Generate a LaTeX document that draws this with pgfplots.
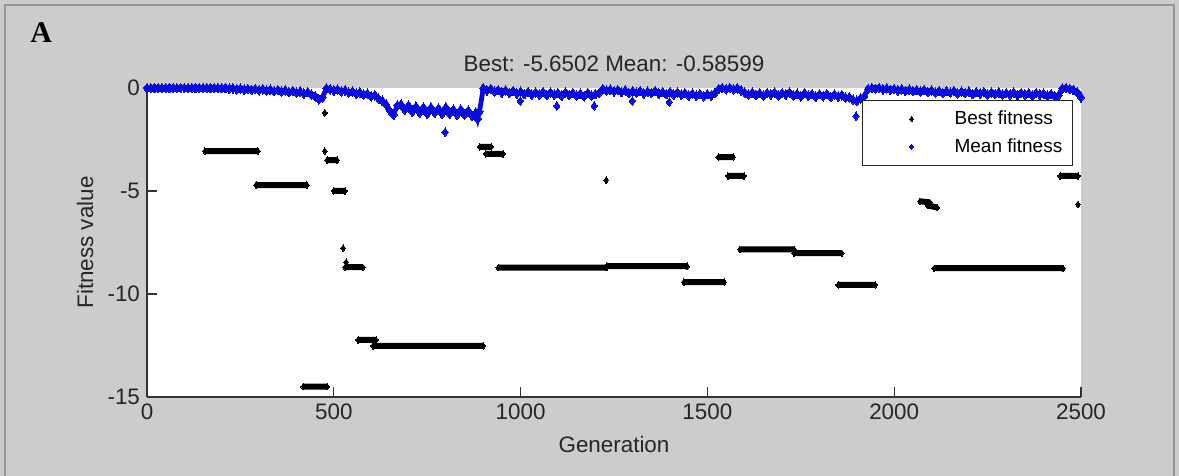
\documentclass[border=0pt]{standalone}
\usepackage{fontspec}
\setmainfont{Liberation Sans}
\newfontfamily\serifbf{Liberation Serif}
\usepackage{pgfplots}
\pgfplotsset{compat=1.18}
\definecolor{figgray}{RGB}{204,204,204}
\definecolor{framegray}{RGB}{150,150,150}
\definecolor{meanblue}{RGB}{12,12,215}
\pgfplotstableread{
x y
155 -3.06
297 -3.06
nan nan
292 -4.71
428 -4.71
nan nan
418 -14.5
482 -14.5
nan nan
476 -1.21
nan nan
476 -3.06
nan nan
482 -3.5
509 -3.5
nan nan
500 -5.0
530 -5.0
nan nan
525 -7.77
nan nan
533 -8.45
nan nan
530 -8.7
578 -8.7
nan nan
565 -12.23
613 -12.23
nan nan
605 -12.52
900 -12.52
nan nan
891 -2.86
921 -2.86
nan nan
907 -3.2
953 -3.2
nan nan
940 -8.72
1230 -8.72
nan nan
1229 -4.47
nan nan
1230 -8.65
1446 -8.65
nan nan
1437 -9.42
1545 -9.42
nan nan
1529 -3.35
1569 -3.35
nan nan
1555 -4.27
1598 -4.27
nan nan
1587 -7.83
1732 -7.83
nan nan
1732 -8.02
1860 -8.02
nan nan
1850 -9.56
1949 -9.56
nan nan
2069 -5.5
2095 -5.55
nan nan
2090 -5.7
2115 -5.8
nan nan
2107 -8.75
2452 -8.75
nan nan
2444 -4.27
2492 -4.27
nan nan
2492 -5.65
}\besttable
\begin{document}
\begin{tikzpicture}
\fill[figgray] (0,0) rectangle (589.5pt,238pt);
\draw[framegray, line width=1pt] (2.5pt,-1pt) -- (2.5pt,235.5pt) -- (587pt,235.5pt) -- (587pt,-1pt);
\node[anchor=base west, inner sep=0pt, font=\fontsize{15}{18}\selectfont\serifbf\bfseries] at (15pt,216.5pt) {A};
\begin{axis}[
  at={(73.5pt,39.5pt)}, anchor=south west,
  scale only axis, width=467pt, height=154.5pt,
  xmin=0, xmax=2500, ymin=-15, ymax=0,
  axis x line*=bottom, axis y line*=left,
  axis line style={black!80, line width=0.6pt},
  axis background/.style={fill=white},
  tick align=inside, major tick length=5pt,
  tick style={black!80, line width=0.6pt},
  xtick={0,500,1000,1500,2000,2500},
  xticklabels={0,500,1000,1500,2000,2500},
  ytick={-15,-10,-5,0},
  yticklabels={-15,-10,-5,0},
  ticklabel style={font=\fontsize{11.2}{13}\selectfont, text=black!85},
  every axis title shift=0pt,
  title={Best: -5.6502 Mean: -0.58599},
  title style={at={(axis description cs:0.5,1)}, anchor=base, yshift=8pt, font=\fontsize{11.2}{13}\selectfont, text=black!85},
  xlabel={Generation},
  xlabel style={at={(axis description cs:0.5,0)}, anchor=base, yshift=-28pt, font=\fontsize{11.2}{13}\selectfont, text=black!85},
  ylabel={Fitness value},
  ylabel style={at={(axis description cs:-0.0578,0.5)}, anchor=base, font=\fontsize{11.2}{13}\selectfont, text=black!85},
  clip=false,
  unbounded coords=jump,
  legend style={at={(rel axis cs:0.7655,0.961)}, anchor=north west, draw=black!85, line width=0.6pt, fill=white,
     font=\fontsize{9.5}{11}\selectfont, inner xsep=3pt, inner ysep=3pt, row sep=1.5pt},
  legend cell align=left,
  legend image code/.code={\path[draw=none, fill=none] (0pt,-2pt) rectangle (41pt,2pt);
     \draw[#1, mark size=1.3pt, line width=0.4pt] plot coordinates {(21.5pt,0pt)};},
]
\addplot[black, line width=3pt, mark=diamond*, mark size=1.6pt, mark options={black, line width=0pt}] table[x=x,y=y] {\besttable};
\addlegendentry{Best fitness}
\addplot[mark=diamond*, mark size=2.4pt, color=meanblue, line width=2.4pt, mark options={meanblue, line width=0pt}] coordinates {
(0,0) (10,0) (20,0) (30,0) (40,0) (50,0) (60,0) (70,0) (80,0) (90,0)
(100,0) (110,0) (120,0) (130,0) (140,0) (150,0) (160,0) (170,0) (180,0) (190,0)
(200,-0.01) (210,0) (220,-0.03) (230,-0.02) (240,-0.06) (250,-0.03) (260,-0.08) (270,-0.04) (280,-0.09) (290,-0.05)
(300,-0.11) (310,-0.06) (320,-0.12) (330,-0.08) (340,-0.15) (350,-0.1) (360,-0.17) (370,-0.12) (380,-0.2) (390,-0.14)
(400,-0.22) (410,-0.17) (420,-0.27) (430,-0.2) (440,-0.32) (450,-0.4) (460,-0.55) (470,-0.45) (480,-0.02) (490,-0.06)
(500,-0.12) (510,-0.08) (520,-0.17) (530,-0.12) (540,-0.22) (550,-0.17) (560,-0.27) (570,-0.22) (580,-0.32) (590,-0.28)
(600,-0.4) (610,-0.35) (620,-0.52) (630,-0.62) (640,-0.8) (650,-1.1) (660,-1.3) (670,-0.85) (680,-0.8) (690,-1.05)
(700,-0.85) (710,-1.15) (720,-0.9) (730,-1.2) (740,-0.95) (750,-1.25) (760,-0.95) (770,-1.2) (780,-1.0) (790,-1.25)
(800,-0.95) (810,-1.25) (820,-1.05) (830,-1.3) (840,-1.05) (850,-1.3) (860,-1.1) (870,-1.35) (880,-1.2) (885,-1.5) (890,-1.15)
(900,-0.02) (910,-0.12) (920,-0.05) (930,-0.17) (940,-0.1) (950,-0.22) (960,-0.12) (970,-0.24) (980,-0.15) (990,-0.27)
(1000,-0.18) (1010,-0.3) (1020,-0.2) (1030,-0.32) (1040,-0.22) (1050,-0.32) (1060,-0.2) (1070,-0.34) (1080,-0.22) (1090,-0.32)
(1100,-0.25) (1110,-0.37) (1120,-0.22) (1130,-0.34) (1140,-0.25) (1150,-0.37) (1160,-0.28) (1170,-0.4) (1180,-0.25) (1190,-0.37)
(1200,-0.3) (1210,-0.25) (1220,-0.05) (1230,-0.12) (1240,-0.08) (1250,-0.17) (1260,-0.1) (1270,-0.2) (1280,-0.12) (1290,-0.24)
(1300,-0.15) (1310,-0.22) (1320,-0.15) (1330,-0.27) (1340,-0.18) (1350,-0.24) (1360,-0.15) (1370,-0.27) (1380,-0.2) (1390,-0.3)
(1400,-0.2) (1410,-0.32) (1420,-0.22) (1430,-0.32) (1440,-0.25) (1450,-0.37) (1460,-0.28) (1470,-0.37) (1480,-0.3) (1490,-0.4)
(1500,-0.3) (1510,-0.37) (1520,-0.25) (1530,-0.05) (1540,0) (1550,-0.06) (1560,0) (1570,-0.06) (1580,-0.02) (1590,-0.12)
(1600,-0.22) (1610,-0.32) (1620,-0.22) (1630,-0.34) (1640,-0.25) (1650,-0.37) (1660,-0.25) (1670,-0.32) (1680,-0.22) (1690,-0.37)
(1700,-0.25) (1710,-0.32) (1720,-0.22) (1730,-0.37) (1740,-0.28) (1750,-0.4) (1760,-0.25) (1770,-0.37) (1780,-0.3) (1790,-0.42)
(1800,-0.3) (1810,-0.4) (1820,-0.3) (1830,-0.44) (1840,-0.32) (1850,-0.42) (1860,-0.35) (1870,-0.47) (1880,-0.45) (1890,-0.57)
(1900,-0.62) (1910,-0.5) (1920,-0.4) (1930,-0.05) (1940,0) (1950,-0.04) (1960,0) (1970,-0.06) (1980,-0.02) (1990,-0.09)
(2000,-0.05) (2010,-0.12) (2020,-0.06) (2030,-0.14) (2040,-0.08) (2050,-0.14) (2060,-0.1) (2070,-0.17) (2080,-0.1) (2090,-0.2)
(2100,-0.12) (2110,-0.22) (2120,-0.15) (2130,-0.24) (2140,-0.15) (2150,-0.22) (2160,-0.15) (2170,-0.27) (2180,-0.18) (2190,-0.24)
(2200,-0.18) (2210,-0.3) (2220,-0.2) (2230,-0.27) (2240,-0.2) (2250,-0.32) (2260,-0.22) (2270,-0.3) (2280,-0.22) (2290,-0.32)
(2300,-0.25) (2310,-0.32) (2320,-0.22) (2330,-0.34) (2340,-0.25) (2350,-0.32) (2360,-0.25) (2370,-0.37) (2380,-0.25) (2390,-0.32)
(2400,-0.28) (2410,-0.37) (2420,-0.3) (2430,-0.4) (2440,-0.35) (2450,-0.02) (2460,0) (2470,-0.05) (2480,-0.1) (2490,-0.2)
(2500,-0.45)
};
\addlegendentry{Mean fitness}
\addplot[forget plot, only marks, mark=diamond*, mark size=2.1pt, color=meanblue, mark options={meanblue, line width=0pt}] coordinates {
(798,-2.14) (999,-0.63) (1097,-0.87) (1197,-0.87) (1299,-0.63) (1398,-0.68) (1898,-1.36)
};
\end{axis}
\pgfresetboundingbox
\useasboundingbox (0,0) rectangle (589.5pt,238pt);
\end{tikzpicture}
\end{document}
